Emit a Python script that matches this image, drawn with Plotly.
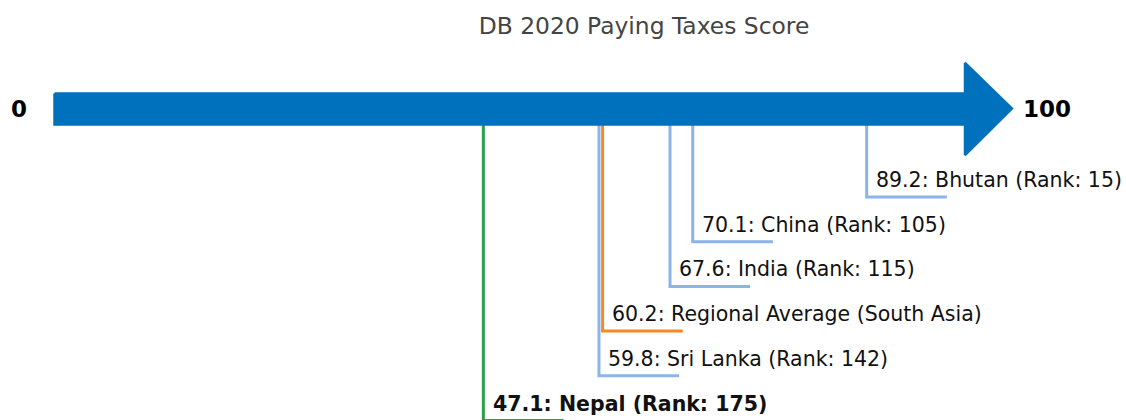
import plotly.graph_objects as go

# ---- data ----
countries = ["Nepal", "Sri Lanka", "Regional Average (South Asia)", "India", "China", "Bhutan"]
scores = [47.1, 59.8, 60.2, 67.6, 70.1, 89.2]
ranks = [175, 142, None, 115, 105, 15]
kinds = ["focus", "peer", "region", "peer", "peer", "peer"]
axis_min, axis_max = 0, 100
title_text = "DB 2020 Paying Taxes Score"

# ---- styles ----
COL = {"focus": "#2CA048", "peer": "#8AB4EA", "region": "#F7891F"}
ARROW = "#0071BC"
W, H = 1126, 420
PX = 9.105            # pixels per score unit
X0 = 54.5             # pixel of score 0
xr = [-X0 / PX, (W - X0) / PX]

SHAFT_TOP, SHAFT_BOT, AX_Y = 93.5, 124.5, 108.5
HEAD_TOP, HEAD_BOT = 63, 155
HEAD_LEN = 5.15
HORIZ_LEN = 8.8
LEVEL0, STEP = 420.5, 44.7   # y of lowest (first) label line, spacing

fig = go.Figure()

# connector lines (drawn first, under the arrow)
order = sorted(range(len(scores)), key=lambda i: scores[i])
for lvl, i in enumerate(order):
    s = scores[i]
    ly = LEVEL0 - lvl * STEP
    fig.add_trace(go.Scatter(
        x=[s, s, s + HORIZ_LEN], y=[AX_Y, ly, ly],
        mode="lines", line=dict(color=COL[kinds[i]], width=3),
        hoverinfo="skip", showlegend=False))
    if ranks[i] is None:
        txt = f"{s:.1f}: {countries[i]}"
    else:
        txt = f"{s:.1f}: {countries[i]} (Rank: {ranks[i]})"
    if kinds[i] == "focus":
        txt = f"<b>{txt}</b>"
    fig.add_annotation(x=s + 0.8, y=ly - 17, text=txt, showarrow=False,
                       xanchor="left", yanchor="middle",
                       font=dict(family="DejaVu Sans", size=20.5, color="#111111"))

# arrow polygon
ax_x = [axis_min, axis_max, axis_max, axis_max + HEAD_LEN, axis_max, axis_max, axis_min, axis_min]
ax_y = [SHAFT_TOP, SHAFT_TOP, HEAD_TOP, AX_Y, HEAD_BOT, SHAFT_BOT, SHAFT_BOT, SHAFT_TOP]
fig.add_trace(go.Scatter(x=ax_x, y=ax_y, mode="lines", fill="toself",
                         fillcolor=ARROW, line=dict(color=ARROW, width=2.5),
                         hoverinfo="skip", showlegend=False))

# end labels
fig.add_annotation(x=axis_min - 2.85, y=AX_Y, text=f"<b>{axis_min}</b>", showarrow=False,
                   xanchor="right", yanchor="middle",
                   font=dict(family="DejaVu Sans", size=23, color="#000000"))
fig.add_annotation(x=axis_max + 6.2, y=AX_Y, text=f"<b>{axis_max}</b>", showarrow=False,
                   xanchor="left", yanchor="middle",
                   font=dict(family="DejaVu Sans", size=23, color="#000000"))

fig.update_layout(
    width=W, height=H,
    margin=dict(l=0, r=0, t=0, b=0),
    paper_bgcolor="white", plot_bgcolor="white",
    title=dict(text=title_text, x=644 / W, xanchor="center", y=1 - 25.5 / H, yanchor="middle",
               font=dict(family="DejaVu Sans", size=23.4, color="#444444")),
    xaxis=dict(range=xr, visible=False, fixedrange=True),
    yaxis=dict(range=[H, 0], visible=False, fixedrange=True),
)

fig.write_html("out.html", config={"displayModeBar": False},
               post_script="document.body.style.margin='0';document.body.style.overflow='hidden';")
